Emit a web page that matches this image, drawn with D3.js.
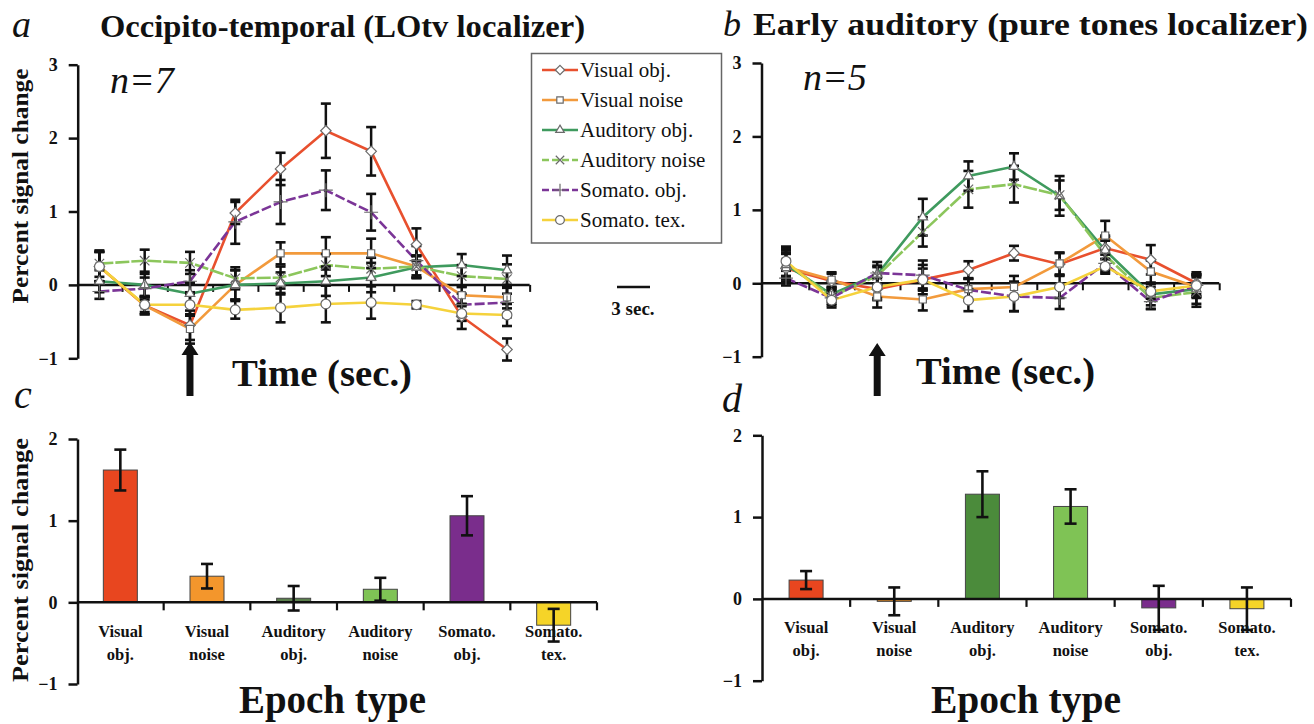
<!DOCTYPE html>
<html><head><meta charset="utf-8">
<script src="https://cdn.jsdelivr.net/npm/d3@7"></script>
<style>
body{margin:0;background:#fff}
svg{display:block}
text{font-family:"Liberation Serif","Times New Roman",serif;fill:#111}
</style>
</head><body>
<svg id="chart" width="1314" height="724"></svg>
<script>
// ---------- DATA ----------
const timePoints = [1, 2, 3, 4, 5, 6, 7, 8, 9, 10];
const seriesNames = ["Visual obj.", "Visual noise", "Auditory obj.", "Auditory noise", "Somato. obj.", "Somato. tex."];
const epochLabels = [["Visual", "obj."], ["Visual", "noise"], ["Auditory", "obj."], ["Auditory", "noise"], ["Somato.", "obj."], ["Somato.", "tex."]];
const lineTicks = [-1, 0, 1, 2, 3];
const barTicks = [-1, 0, 1, 2];

// Panel a: Occipito-temporal time courses
const aVisObj      = [0.25, -0.28, -0.55, 0.98, 1.58, 2.10, 1.82, 0.55, -0.43, -0.88];
const aVisObjErr   = [0.20, 0.12, 0.20, 0.15, 0.22, 0.37, 0.33, 0.22, 0.17, 0.15];
const aVisNoise    = [0.25, -0.28, -0.60, 0.00, 0.43, 0.43, 0.43, 0.25, -0.14, -0.17];
const aVisNoiseErr = [0.20, 0.12, 0.20, 0.20, 0.15, 0.22, 0.20, 0.15, 0.12, 0.15];
const aAudObj      = [0.05, 0.00, -0.12, 0.00, 0.02, 0.05, 0.10, 0.24, 0.27, 0.20];
const aAudObjErr   = [0.15, 0.15, 0.15, 0.20, 0.15, 0.20, 0.20, 0.15, 0.15, 0.20];
const aAudNoise    = [0.29, 0.33, 0.30, 0.09, 0.10, 0.27, 0.22, 0.25, 0.12, 0.08];
const aAudNoiseErr = [0.18, 0.15, 0.15, 0.15, 0.15, 0.15, 0.15, 0.15, 0.15, 0.20];
const aSomObj      = [-0.09, -0.05, 0.05, 0.86, 1.13, 1.29, 0.99, 0.33, -0.27, -0.24];
const aSomObjErr   = [0.10, 0.15, 0.15, 0.30, 0.30, 0.27, 0.25, 0.20, 0.15, 0.20];
const aSomTex      = [0.25, -0.27, -0.27, -0.34, -0.31, -0.26, -0.24, -0.27, -0.39, -0.41];
const aSomTexErr   = [0.20, 0.10, 0.15, 0.12, 0.20, 0.25, 0.22, 0.05, 0.10, 0.15];

// Panel b: Early auditory time courses
const bVisObj      = [0.20, 0.03, -0.08, 0.05, 0.18, 0.41, 0.26, 0.48, 0.32, 0.00];
const bVisObjErr   = [0.20, 0.10, 0.15, 0.15, 0.12, 0.10, 0.15, 0.15, 0.20, 0.15];
const bVisNoise    = [0.22, 0.05, -0.18, -0.22, -0.08, -0.05, 0.27, 0.65, 0.16, -0.05];
const bVisNoiseErr = [0.20, 0.10, 0.15, 0.15, 0.15, 0.15, 0.15, 0.20, 0.15, 0.15];
const bAudObj      = [0.25, -0.15, 0.12, 0.90, 1.46, 1.59, 1.19, 0.45, -0.15, -0.08];
const bAudObjErr   = [0.20, 0.10, 0.12, 0.25, 0.20, 0.18, 0.27, 0.20, 0.15, 0.20];
const bAudNoise    = [0.28, -0.18, 0.10, 0.70, 1.28, 1.35, 1.20, 0.38, -0.20, -0.12];
const bAudNoiseErr = [0.20, 0.10, 0.12, 0.20, 0.25, 0.25, 0.20, 0.20, 0.15, 0.20];
const bSomObj      = [0.07, -0.20, 0.14, 0.11, -0.09, -0.18, -0.20, 0.27, -0.25, -0.03];
const bSomObjErr   = [0.10, 0.10, 0.15, 0.20, 0.15, 0.20, 0.15, 0.12, 0.10, 0.15];
const bSomTex      = [0.30, -0.23, -0.05, 0.05, -0.23, -0.18, -0.05, 0.23, -0.11, -0.03];
const bSomTexErr   = [0.20, 0.10, 0.15, 0.20, 0.15, 0.20, 0.15, 0.10, 0.10, 0.15];

// Panel c / d: epoch averages
const cValues = [1.62, 0.32, 0.05, 0.16, 1.06, -0.28];
const cErrors = [0.25, 0.15, 0.15, 0.14, 0.24, 0.20];
const dValues = [0.23, -0.03, 1.28, 1.13, -0.11, -0.12];
const dErrors = [0.11, 0.17, 0.28, 0.21, 0.27, 0.26];

// ---------- STYLES ----------
const lineColors = ["#e8502e", "#f29a3c", "#3f9a5e", "#8cc65c", "#7b3597", "#f5d23c"];
const lineDash = [null, null, null, "14,2", "10,3", null];
const symbols = [d3.symbolDiamond2, d3.symbolSquare2, d3.symbolTriangle2, d3.symbolX, d3.symbolPlus, d3.symbolCircle];
const symFill = ["#fff", "#fff", "#fff", "none", "none", "#fff"];
const symSize = [70, 65, 65, 60, 65, 75];
const cBarColors = ["#e8461f", "#f3962c", "#5b7f4d", "#7fc355", "#7a2d8c", "#f5d428"];
const dBarColors = ["#e8461f", "#f3962c", "#4b8b3b", "#7fc355", "#7a2d8c", "#f5d428"];

const svg = d3.select("#chart");

function yAxisDraw(g, y, ticks, x0) {
  const ax = d3.axisLeft(y).tickValues(ticks).tickSize(9).tickSizeOuter(0).tickPadding(11).tickFormat(d3.format("d"));
  const a = g.append("g").attr("transform", `translate(${x0},0)`).call(ax);
  a.select(".domain").attr("stroke", "#111").attr("stroke-width", 2.5);
  a.selectAll(".tick line").attr("stroke", "#111").attr("stroke-width", 2.5);
  a.selectAll(".tick text").attr("font-family", "Liberation Serif").attr("font-weight", "bold").attr("font-size", 18).attr("fill", "#111");
}

function linePanel(data, errs, x, y, axisX) {
  const g = svg.append("g");
  yAxisDraw(g, y, lineTicks, axisX);
  g.append("line").attr("x1", axisX).attr("x2", x(timePoints.length - 0.5))
    .attr("y1", y(0)).attr("y2", y(0)).attr("stroke", "#111").attr("stroke-width", 2.5);
  const mids = timePoints.map((d, i) => i + 0.5);
  const xa = d3.axisBottom(x).tickValues(mids).tickSize(7).tickFormat("");
  const xg = g.append("g").attr("transform", `translate(0,${y(0)})`).call(xa);
  xg.select(".domain").remove();
  xg.selectAll(".tick line").attr("stroke", "#111").attr("stroke-width", 2);

  const line = d3.line().x((d, i) => x(i)).y(d => y(d));
  data.forEach((s, k) => {
    g.append("path").datum(s).attr("d", line).attr("fill", "none")
      .attr("stroke", lineColors[k]).attr("stroke-width", 2.6)
      .attr("stroke-dasharray", lineDash[k]);
  });
  data.forEach((s, k) => {
    s.forEach((v, i) => {
      const e = errs[k][i], cx = x(i);
      g.append("line").attr("x1", cx).attr("x2", cx).attr("y1", y(v - e)).attr("y2", y(v + e))
        .attr("stroke", "#111").attr("stroke-width", 2.5);
      [v - e, v + e].forEach(w => g.append("line").attr("x1", cx - 5).attr("x2", cx + 5)
        .attr("y1", y(w)).attr("y2", y(w)).attr("stroke", "#111").attr("stroke-width", 2.6));
    });
  });
  data.forEach((s, k) => {
    const sym = d3.symbol().type(symbols[k]).size(symSize[k]);
    s.forEach((v, i) => {
      g.append("path").attr("d", sym).attr("transform", `translate(${x(i)},${y(v)})`)
        .attr("fill", symFill[k]).attr("stroke", "#6a6a6a").attr("stroke-width", 1.2);
    });
  });
  return g;
}

function arrow(cx, yTip, yBot) {
  svg.append("path").attr("d",
    `M${cx},${yTip} L${cx + 8.5},${yTip + 13} L${cx + 3.5},${yTip + 13} L${cx + 3.5},${yBot} L${cx - 3.5},${yBot} L${cx - 3.5},${yTip + 13} L${cx - 8.5},${yTip + 13} Z`)
    .attr("fill", "#111");
}

// ---------- PANEL A ----------
const xA = d3.scaleLinear().domain([0, 9]).range([99.4, 507]);
const yA = d3.scaleLinear().domain([-1, 3]).range([358.3, 64.7]);
linePanel([aVisObj, aVisNoise, aAudObj, aAudNoise, aSomObj, aSomTex],
  [aVisObjErr, aVisNoiseErr, aAudObjErr, aAudNoiseErr, aSomObjErr, aSomTexErr], xA, yA, 77.7);
arrow(xA(2), 342, 396);

// ---------- PANEL B ----------
const xB = d3.scaleLinear().domain([0, 9]).range([786, 1196.4]);
const yB = d3.scaleLinear().domain([-1, 3]).range([356.7, 63]);
linePanel([bVisObj, bVisNoise, bAudObj, bAudNoise, bSomObj, bSomTex],
  [bVisObjErr, bVisNoiseErr, bAudObjErr, bAudNoiseErr, bSomObjErr, bSomTexErr], xB, yB, 761.5);
arrow(xB(2), 343, 396);

// scale bar
svg.append("line").attr("x1", 617).attr("x2", 650).attr("y1", 287).attr("y2", 287).attr("stroke", "#111").attr("stroke-width", 2.5);
svg.append("text").attr("x", 633).attr("y", 315).attr("text-anchor", "middle").attr("font-weight", "bold").attr("font-size", 19).text("3 sec.");

// legend
const lg = svg.append("g");
lg.append("rect").attr("x", 531.5).attr("y", 53.5).attr("width", 190).attr("height", 189.5)
  .attr("fill", "#fff").attr("stroke", "#666").attr("stroke-width", 1.5);
seriesNames.forEach((n, k) => {
  const yy = 70 + k * 30;
  lg.append("line").attr("x1", 542).attr("x2", 578).attr("y1", yy).attr("y2", yy)
    .attr("stroke", lineColors[k]).attr("stroke-width", 2.6).attr("stroke-dasharray", lineDash[k] ? "7,3" : null);
  lg.append("path").attr("d", d3.symbol().type(symbols[k]).size(symSize[k] * 0.8)).attr("transform", `translate(560,${yy})`)
    .attr("fill", symFill[k]).attr("stroke", "#6a6a6a").attr("stroke-width", 1.2);
  lg.append("text").attr("x", 580).attr("y", yy + 7).attr("font-size", 21).text(n);
});

// ---------- BAR PANELS ----------
function barPanel(values, errors, colors, x, y, axisX, lab1, lab2) {
  const g = svg.append("g");
  const bw = x.bandwidth(), barW = 34;
  values.forEach((v, i) => {
    const c = seriesNames[i];
    const cx = x(c) + bw / 2;
    g.append("rect").attr("x", cx - barW / 2).attr("y", y(Math.max(0, v)))
      .attr("width", barW).attr("height", Math.abs(y(v) - y(0)))
      .attr("fill", colors[i]).attr("stroke", "#444").attr("stroke-width", 1);
  });
  yAxisDraw(g, y, barTicks, axisX);
  g.append("line").attr("x1", axisX).attr("x2", x.range()[1]).attr("y1", y(0)).attr("y2", y(0))
    .attr("stroke", "#111").attr("stroke-width", 2.5);
  seriesNames.forEach(c => {
    const tx = x(c) + bw;
    g.append("line").attr("x1", tx).attr("x2", tx).attr("y1", y(0)).attr("y2", y(0) + 8)
      .attr("stroke", "#111").attr("stroke-width", 2.2);
  });
  values.forEach((v, i) => {
    const cx = x(seriesNames[i]) + bw / 2, e = errors[i];
    g.append("line").attr("x1", cx).attr("x2", cx).attr("y1", y(v - e)).attr("y2", y(v + e))
      .attr("stroke", "#111").attr("stroke-width", 2.6);
    [v - e, v + e].forEach(w => g.append("line").attr("x1", cx - 6).attr("x2", cx + 6)
      .attr("y1", y(w)).attr("y2", y(w)).attr("stroke", "#111").attr("stroke-width", 2.6));
  });
  epochLabels.forEach((l, i) => {
    const cx = x(seriesNames[i]) + bw / 2;
    g.append("text").attr("x", cx).attr("y", lab1).attr("text-anchor", "middle").attr("font-weight", "bold").attr("font-size", 16.5).text(l[0]);
    g.append("text").attr("x", cx).attr("y", lab2).attr("text-anchor", "middle").attr("font-weight", "bold").attr("font-size", 16.5).text(l[1]);
  });
}
const xC = d3.scaleBand().domain(seriesNames).range([77, 597]);
const yC = d3.scaleLinear().domain([-1, 2]).range([684, 439]);
barPanel(cValues, cErrors, cBarColors, xC, yC, 77.5, 637, 660);
const xD = d3.scaleBand().domain(seriesNames).range([762, 1291]);
const yD = d3.scaleLinear().domain([-1, 2]).range([680.7, 435.3]);
barPanel(dValues, dErrors, dBarColors, xD, yD, 762, 633, 656);

// ---------- TEXT ----------
function t(x, y, s, size, opts = {}) {
  const el = svg.append("text").attr("x", x).attr("y", y).attr("font-size", size).text(s);
  if (opts.bold) el.attr("font-weight", "bold");
  if (opts.italic) el.attr("font-style", "italic");
  if (opts.anchor) el.attr("text-anchor", opts.anchor);
  if (opts.len) el.attr("textLength", opts.len).attr("lengthAdjust", "spacingAndGlyphs");
  return el;
}
t(12, 37, "a", 38, {italic: true});
t(100, 37, "Occipito-temporal (LOtv localizer)", 32, {bold: true, len: 485});
t(723, 36, "b", 36, {italic: true});
t(753, 35, "Early auditory (pure tones localizer)", 32, {bold: true, len: 555});
t(110, 93, "n=7", 38, {italic: true});
t(803, 90, "n=5", 38, {italic: true});
t(232, 386, "Time (sec.)", 38, {bold: true, len: 180});
t(916, 384, "Time (sec.)", 38, {bold: true, len: 179});
t(14, 408, "c", 40, {italic: true});
t(722, 412, "d", 40, {italic: true});
t(239, 713, "Epoch type", 39, {bold: true, len: 187});
t(931, 713, "Epoch type", 39, {bold: true, len: 190});
svg.append("text").attr("transform", "translate(28,186) rotate(-90)").attr("text-anchor", "middle")
  .attr("font-weight", "bold").attr("font-size", 24).attr("textLength", 235).attr("lengthAdjust", "spacingAndGlyphs").text("Percent signal change");
svg.append("text").attr("transform", "translate(28,560) rotate(-90)").attr("text-anchor", "middle")
  .attr("font-weight", "bold").attr("font-size", 24).attr("textLength", 244).attr("lengthAdjust", "spacingAndGlyphs").text("Percent signal change");
</script>
</body></html>
